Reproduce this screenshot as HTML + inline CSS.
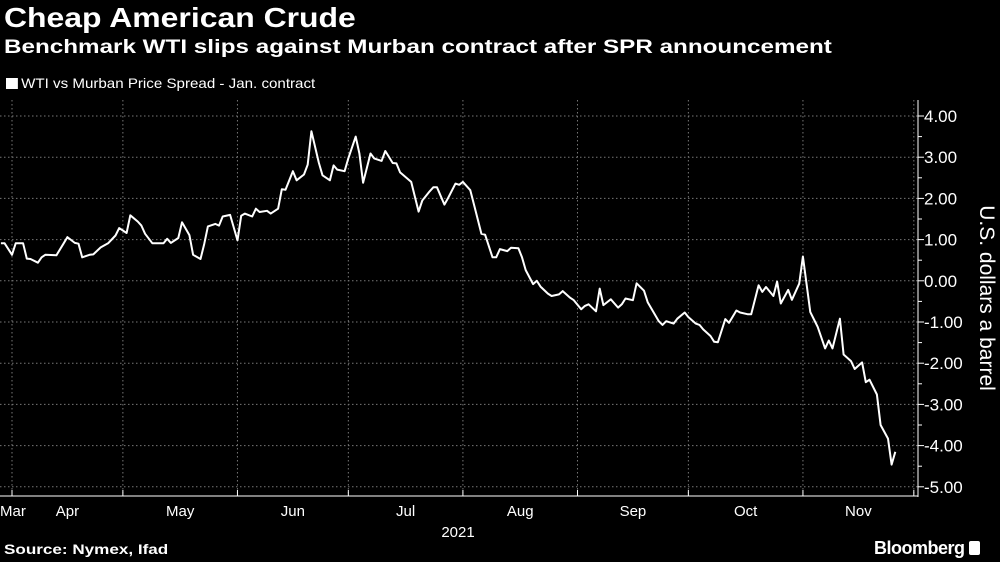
<!DOCTYPE html>
<html><head><meta charset="utf-8">
<style>
html,body{margin:0;padding:0;background:#000;}
body{width:1000px;height:562px;overflow:hidden;position:relative;font-family:"Liberation Sans","DejaVu Sans",sans-serif;color:#fff;}
#title{position:absolute;left:4px;top:2px;font-size:28px;font-weight:bold;transform:scaleX(1.14);transform-origin:left top;white-space:nowrap;}
#subtitle{position:absolute;left:4px;top:37px;font-size:19px;font-weight:bold;transform:scaleX(1.275);transform-origin:left top;white-space:nowrap;}
#legend{position:absolute;left:6px;top:75px;font-size:14px;transform:scaleX(1.08);transform-origin:left top;white-space:nowrap;}
#legend span.sw{display:inline-block;width:11px;height:11px;background:#fff;margin-right:3px;vertical-align:-1px;}
#source{position:absolute;left:4px;top:541px;font-size:14px;font-weight:bold;transform:scaleX(1.22);transform-origin:left top;white-space:nowrap;}
#brand{position:absolute;left:874px;top:538px;font-size:18px;font-weight:bold;letter-spacing:-0.5px;}
svg{position:absolute;left:0;top:0;}
</style></head><body>
<div id="title">Cheap American Crude</div>
<div id="subtitle">Benchmark WTI slips against Murban contract after SPR announcement</div>
<div id="legend"><span class="sw"></span>WTI vs Murban Price Spread - Jan. contract</div>
<div id="source">Source: Nymex, Ifad</div>
<div id="brand">Bloomberg <span style="display:inline-block;width:11px;height:14px;background:#fff;border-radius:2px;vertical-align:-1px"></span></div>
<svg id="chart" width="1000" height="562"></svg>
<script>
// day offsets from Apr 1 2021
const days=[-3,-2,0,1,3,4,5,7,8,9,12,14,15,17,18,19,21,22,24,26,28,29,31,32,34,35,36,38,41,42,43,45,46,48,49,51,52,53,55,56,57,59,61,62,63,65,66,67,69,70,72,73,74,76,77,79,80,81,83,84,86,87,88,90,91,93,94,95,97,98,100,101,103,104,105,108,110,111,113,114,115,117,118,120,121,122,124,125,127,128,130,131,132,134,135,137,138,139,141,142,143,145,146,148,149,151,152,154,155,156,158,159,160,162,164,165,166,168,169,171,172,175,176,177,179,180,182,183,185,186,187,189,190,191,193,194,196,197,199,200,202,203,204,206,207,208,210,211,213,214,216,217,218,220,221,222,224,225,227,228,230,231,232,234,235,237,238,239];
const spread=[0.91,0.91,0.63,0.91,0.91,0.54,0.53,0.44,0.57,0.63,0.62,0.91,1.06,0.92,0.90,0.57,0.63,0.64,0.81,0.91,1.10,1.28,1.16,1.59,1.44,1.34,1.14,0.91,0.91,1.02,0.92,1.04,1.42,1.11,0.63,0.53,0.89,1.32,1.38,1.34,1.56,1.60,0.98,1.58,1.63,1.56,1.75,1.67,1.70,1.63,1.75,2.22,2.21,2.66,2.44,2.58,2.82,3.63,2.87,2.56,2.44,2.80,2.70,2.66,2.97,3.50,3.09,2.38,3.09,2.97,2.91,3.15,2.86,2.85,2.63,2.40,1.68,1.95,2.17,2.27,2.27,1.85,2.01,2.36,2.33,2.40,2.20,1.85,1.14,1.12,0.57,0.57,0.77,0.72,0.80,0.79,0.57,0.26,-0.08,0.0,-0.14,-0.31,-0.37,-0.33,-0.25,-0.41,-0.47,-0.69,-0.61,-0.57,-0.74,-0.19,-0.59,-0.45,-0.65,-0.57,-0.43,-0.47,-0.06,-0.24,-0.52,-0.98,-1.07,-0.98,-1.04,-0.92,-0.77,-0.88,-1.04,-1.07,-1.18,-1.34,-1.48,-1.49,-0.93,-1.02,-0.72,-0.77,-0.81,-0.81,-0.11,-0.27,-0.15,-0.37,-0.02,-0.55,-0.22,-0.46,-0.07,0.59,-0.76,-0.94,-1.12,-1.64,-1.45,-1.64,-0.92,-1.79,-1.95,-2.14,-1.98,-2.46,-2.40,-2.76,-3.50,-3.83,-4.46,-4.15];
const yTicks=[4,3,2,1,0,-1,-2,-3,-4,-5];
const yTickLabels=["4.00","3.00","2.00","1.00","0.00","-1.00","-2.00","-3.00","-4.00","-5.00"];
const monthStarts=[-31,0,30,61,91,122,153,183,214,244];
const monthLabels=["Mar","Apr","May","Jun","Jul","Aug","Sep","Oct","Nov"];

const X0=12, PXD=3.696, AX=918, Y4=116, PYU=41.2;
const xS=d=>X0+d*PXD;
const yS=v=>Y4+(4-v)*PYU;
const svg=document.getElementById('chart');
const NS='http://www.w3.org/2000/svg';
function mk(t,a){const e=document.createElementNS(NS,t);for(const k in a)e.setAttribute(k,a[k]);svg.appendChild(e);return e;}
yTicks.forEach((v,i)=>{
  const y=yS(v);
  const g=mk('line',{x1:0,x2:AX,y1:y,y2:y,stroke:'#777','stroke-width':1,'stroke-dasharray':'1.5,2.5'});
  
  
  const t=mk('line',{x1:AX,x2:AX+6,y1:y,y2:y,stroke:'#fff','stroke-width':1});
  
  
  if(i<yTicks.length-1){const m=mk('line',{x1:AX,x2:AX+4,y1:y+PYU/2,y2:y+PYU/2,stroke:'#fff','stroke-width':1});
  
  }
  const l=mk('text',{x:AX+6,y:y+6,fill:'#fff','font-size':17,'font-family':'Liberation Sans, sans-serif'});
  l.textContent=yTickLabels[i];
  
  
});
monthStarts.forEach((d,i)=>{
  const x=xS(d);
  if(x>=0&&x<AX){
    const g=mk('line',{x1:x,x2:x,y1:100,y2:496,stroke:'#777','stroke-width':1,'stroke-dasharray':'1.5,2.5'});
    
    
    const t=mk('line',{x1:x,x2:x,y1:490,y2:496,stroke:'#fff','stroke-width':1});
    
    
  }
  if(i<monthLabels.length){
    let cx=(xS(d)+xS(monthStarts[i+1]))/2;
    let anchor='middle';
    if(cx<14){cx=0;anchor='start';}
    const l=mk('text',{x:cx,y:516,fill:'#fff','font-size':15,'text-anchor':anchor,'font-family':'Liberation Sans, sans-serif'});
    l.textContent=monthLabels[i];
    
    
  }
});
const yr=mk('text',{x:458,y:537,fill:'#fff','font-size':15,'text-anchor':'middle','font-family':'Liberation Sans, sans-serif'});
yr.textContent='2021';


const ax=mk('line',{x1:0,x2:AX,y1:496,y2:496,stroke:'#fff','stroke-width':1});


const ay=mk('line',{x1:AX,x2:AX,y1:100,y2:497,stroke:'#fff','stroke-width':1});


const yt=mk('text',{x:0,y:0,fill:'#fff','font-size':21,'text-anchor':'middle','transform':'translate(980,298) rotate(90)','font-family':'Liberation Sans, sans-serif'});
yt.textContent='U.S. dollars a barrel';


const pts=days.map((d,i)=>xS(d).toFixed(1)+','+yS(spread[i]).toFixed(1)).join(' ');
const ln=mk('polyline',{points:pts,fill:'none',stroke:'#fff','stroke-width':2,'stroke-linejoin':'round'});


</script>
</body></html>
